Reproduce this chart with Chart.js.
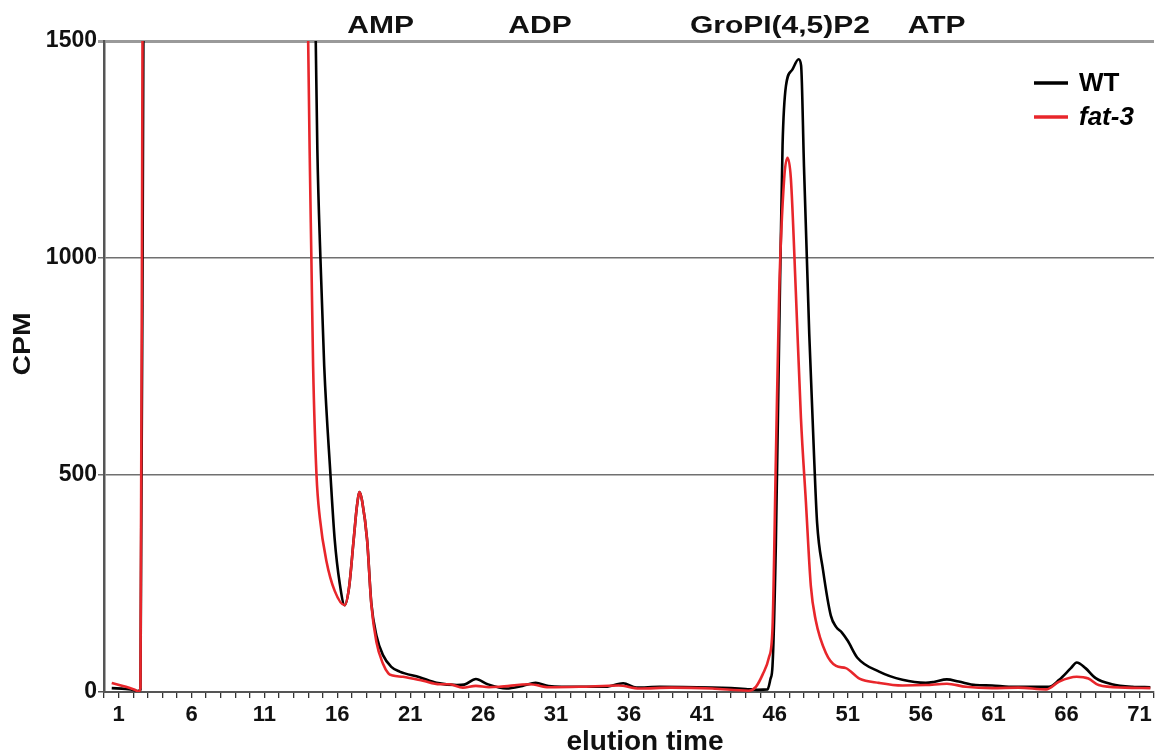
<!DOCTYPE html>
<html><head><meta charset="utf-8">
<script src="https://cdn.jsdelivr.net/npm/chart.js@4/dist/chart.umd.min.js"></script>
<style>html,body{margin:0;padding:0;background:#fff;}canvas{display:block;}</style>
</head><body>
<canvas id="c" width="1158" height="755"></canvas>
<script>
// ---- data ----
const seriesNames = ['WT', 'fat-3'];
const wtX = [0.53, 1.5, 2.1, 2.3, 2.5, 2.7, 8, 14.52, 14.63, 14.84, 15.1, 15.53, 15.82, 16.16, 16.5, 16.8, 17.12, 17.35, 17.53, 17.7, 18.04, 18.33, 18.68, 19.13, 19.7, 20.27, 21.64, 22.8, 24.2, 24.7, 25.5, 26.3, 27.6, 28.7, 29.6, 30.5, 32.6, 34.4, 35.6, 36.5, 38.1, 41.7, 44.0, 44.8, 45.5, 45.7, 45.84, 46.07, 46.3, 46.53, 46.76, 47.2, 47.63, 47.8, 48.0, 48.36, 48.7, 48.9, 49.3, 49.84, 50.2, 50.6, 51.0, 51.66, 53.15, 54.75, 56.35, 56.9, 57.8, 58.6, 59.77, 60.9, 62.05, 63.9, 64.8, 65.5, 66.3, 66.7, 67.3, 68.0, 69.1, 70.5, 71.75];
const wtY = [9, 7, 4, 2, 5, 1500, null, 1500, 1250, 1000, 751, 500, 351, 251, 200, 240, 351, 430, 461, 440, 351, 205, 130, 85, 58, 47, 34, 21, 16, 17, 30, 18, 8, 14, 21, 14, 12, 12, 20, 10, 12, 10, 7, 5, 6, 30, 60, 341, 825, 1260, 1396, 1434, 1458, 1444, 1210, 825, 535, 389, 282, 176, 150, 137, 118, 79, 47, 28, 21, 23, 29, 24, 16, 15, 12, 12, 12, 28, 55, 68, 55, 32, 18, 12, 11];
const fatX = [0.53, 1.5, 2.1, 2.4, 2.5, 2.64, 8, 14.0, 14.1, 14.22, 14.34, 14.57, 14.8, 15.25, 15.82, 16.5, 16.8, 17.12, 17.35, 17.53, 17.7, 18.04, 18.33, 18.68, 19.13, 19.5, 19.8, 20.5, 21.87, 23.0, 23.7, 24.6, 25.5, 26.4, 27.1, 29.2, 30.5, 32.6, 35.3, 36.7, 38.9, 41.7, 44.2, 44.7, 45.16, 45.6, 45.84, 46.07, 46.3, 46.64, 46.87, 47.1, 47.44, 47.79, 48.13, 48.47, 48.8, 49.5, 50.2, 50.87, 51.8, 53.15, 54.75, 56.35, 57.8, 59.1, 60.9, 62.7, 64.6, 65.5, 66.7, 67.5, 68.2, 70.0, 71.75];
const fatY = [21, 12, 5, 1, 10, 1500, null, 1500, 1250, 1000, 750, 501, 401, 302, 233, 200, 240, 351, 430, 461, 440, 351, 202, 115, 65, 43, 38, 35, 26, 18, 18, 10, 14, 11, 12, 18, 11, 12, 15, 8, 10, 8, 3, 12, 40, 80, 147, 535, 922, 1183, 1231, 1183, 922, 631, 438, 244, 166, 90, 60, 55, 31, 21, 15, 16, 19, 12, 9, 10, 6, 24, 35, 31, 16, 10, 9];
const peakLabels = ['AMP', 'ADP', 'GroPI(4,5)P2', 'ATP'];
const peakPos = [18.97, 29.9, 46.35, 57.1];
const xLabelStart = 1, xLabelEvery = 5;
const yMax = 1500, yStep = 500, xMin = 0, xMax = 72;
const xTitle = 'elution time', yTitle = 'CPM';

const FONT = "'Liberation Sans', Arial, Helvetica, sans-serif";
const BLACK = '#000000', RED = '#e8262b';

const toPts = (xs, ys) => xs.map((x, i) => ({x: x, y: ys[i]}));

const textPlugin = {
  id: 'texts',
  afterDraw(chart) {
    const ctx = chart.ctx, xs = chart.scales.x, ca = chart.chartArea;
    ctx.save();
    ctx.fillStyle = '#111';
    ctx.font = 'bold 24px ' + FONT;
    ctx.textAlign = 'center';
    ctx.textBaseline = 'alphabetic';
    peakLabels.forEach((t, i) => {
      const px = xs.getPixelForValue(peakPos[i]);
      ctx.save();
      ctx.translate(px, 33);
      ctx.scale(1.25, 1);
      ctx.fillText(t, 0, 0);
      ctx.restore();
    });
    ctx.save();
    ctx.translate(30, 344);
    ctx.rotate(-Math.PI / 2);
    ctx.scale(1.18, 1);
    ctx.font = 'bold 24px ' + FONT;
    ctx.textAlign = 'center';
    ctx.textBaseline = 'alphabetic';
    ctx.fillText(yTitle, 0, 0);
    ctx.restore();
    ctx.font = 'bold 28px ' + FONT;
    ctx.textAlign = 'center';
    ctx.fillText(xTitle, (ca.left + ca.right) / 2 + 16, 750);
    const cols = [BLACK, RED];
    const ly = [83, 117];
    seriesNames.forEach((n, i) => {
      ctx.strokeStyle = cols[i];
      ctx.lineWidth = 3.5;
      ctx.beginPath();
      ctx.moveTo(1034, ly[i]);
      ctx.lineTo(1068, ly[i]);
      ctx.stroke();
      ctx.fillStyle = '#000';
      ctx.textAlign = 'left';
      ctx.font = (i === 1 ? 'italic ' : '') + 'bold 26px ' + FONT;
      ctx.fillText(n, 1079, ly[i] + 8);
    });
    ctx.restore();
  }
};

new Chart(document.getElementById('c'), {
  type: 'line',
  data: {
    datasets: [
      {label: seriesNames[0], data: toPts(wtX, wtY), borderColor: BLACK, borderWidth: 2.6, pointRadius: 0, cubicInterpolationMode: 'monotone', spanGaps: false, order: 2},
      {label: seriesNames[1], data: toPts(fatX, fatY), borderColor: RED, borderWidth: 2.6, pointRadius: 0, cubicInterpolationMode: 'monotone', spanGaps: false, order: 1}
    ]
  },
  options: {
    responsive: false,
    animation: false,
    devicePixelRatio: 1,
    layout: {padding: {top: 41, right: 3, left: 0, bottom: 0}},
    plugins: {legend: {display: false}, tooltip: {enabled: false}},
    scales: {
      x: {
        type: 'linear', min: xMin, max: xMax,
        afterFit(s) { s.height = 63; },
        border: {display: true, color: '#555', width: 2},
        grid: {display: true, drawOnChartArea: false, drawTicks: true, tickLength: 6, color: '#333', lineWidth: 1.3},
        ticks: {
          stepSize: 1, autoSkip: false, maxRotation: 0, minRotation: 0, padding: 4,
          color: '#111', font: {family: FONT, size: 22, weight: 'bold'},
          callback: v => ((v - xLabelStart) % xLabelEvery === 0 && v >= xLabelStart) ? String(v) : ''
        }
      },
      y: {
        type: 'linear', min: 0, max: yMax,
        afterFit(s) { s.width = 104; },
        border: {display: true, color: '#555', width: 2.5},
        grid: {
          display: true, drawTicks: true, tickLength: 6,
          color: c => c.tick && c.tick.value === yMax ? '#9a9a9a' : (c.tick && c.tick.value === 0 ? '#555' : '#707070'),
          lineWidth: c => c.tick && c.tick.value === yMax ? 3 : 1.5
        },
        ticks: {stepSize: yStep, padding: 1, color: '#111', font: {family: FONT, size: 23, weight: 'bold'}, callback: v => String(v)}
      }
    }
  },
  plugins: [textPlugin]
});
</script>
</body></html>
